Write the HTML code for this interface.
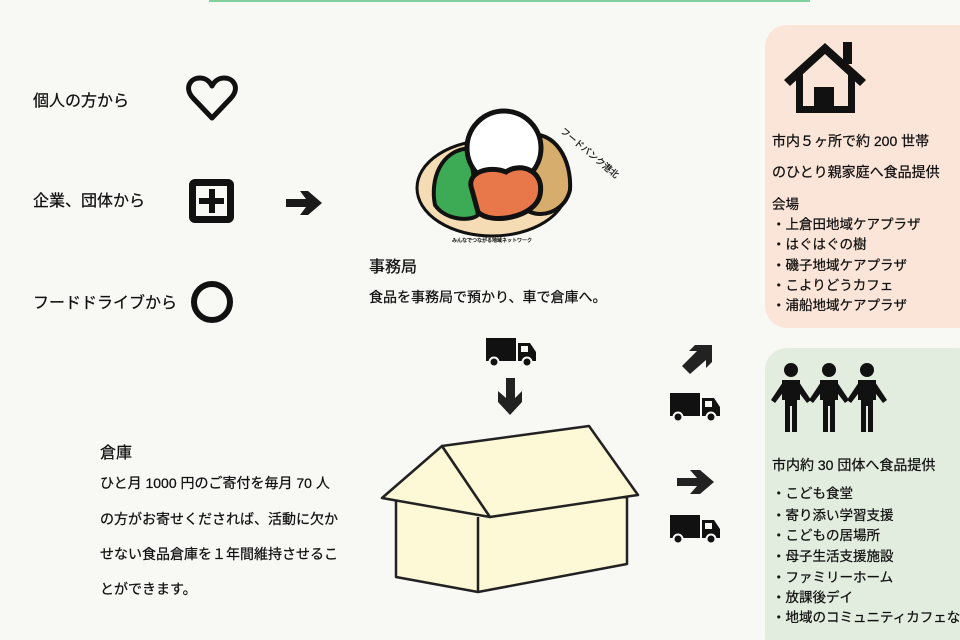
<!DOCTYPE html>
<html><head><meta charset="utf-8"><style>
html,body{margin:0;padding:0;background:#f8f8f5;}
svg{display:block;}
text{font-family:"Liberation Sans","Noto Sans CJK JP",sans-serif;fill:#111;stroke:#111;stroke-width:0.25;}
</style></head><body>
<svg width="960" height="640" viewBox="0 0 960 640" xmlns="http://www.w3.org/2000/svg">
<rect width="960" height="640" fill="#f8f8f5"/>
<rect x="209" y="0" width="601" height="2" fill="#7fd09c"/>
<rect x="765" y="25" width="215" height="303" rx="22" fill="#fbe5d8"/>
<rect x="765" y="348" width="215" height="310" rx="22" fill="#e3eddf"/>

<text x="33" y="106" font-size="16">個人の方から</text>
<text x="33" y="206" font-size="16">企業、団体から</text>
<text x="33" y="308" font-size="16">フードドライブから</text>
<path d="M212,118 L193,98 C184,88 190,78 200,78 C206,78 210,82 212,86 C214,82 218,78 224,78 C234,78 240,88 231,98 Z" fill="none" stroke="#111" stroke-width="5" stroke-linejoin="round"/>
<rect x="189" y="179" width="45" height="44" rx="6" fill="#111"/>
<rect x="196" y="186" width="31" height="30" fill="#f8f8f5"/>
<rect x="209" y="189" width="6" height="24" fill="#111"/>
<rect x="199" y="198" width="25" height="6" fill="#111"/>
<circle cx="212" cy="302" r="18" fill="none" stroke="#111" stroke-width="6"/>
<path d="M286,199 L306,199 L300,191 L308,191 L322,203 L308,215 L300,215 L306,207 L286,207 Z" fill="#1a1a1a"/>

<ellipse cx="492" cy="188" rx="75" ry="48" fill="#f6dcb5" stroke="#111" stroke-width="3"/>
<path d="M470,148 C440,150 430,180 435,205 C445,220 470,222 478,215 Z" fill="#3dab55" stroke="#111" stroke-width="4"/>
<path d="M528,135 C555,130 572,160 570,190 C565,210 545,218 530,212 L515,170 Z" fill="#d6ad6c" stroke="#111" stroke-width="4"/>
<circle cx="504" cy="148" r="37" fill="#fff" stroke="#111" stroke-width="5"/>
<path d="M472,190 C465,172 490,165 506,172 C520,162 545,170 540,195 C535,218 490,225 478,212 Z" fill="#e8784a" stroke="#111" stroke-width="5"/>
<text x="560" y="132" font-size="9" stroke-width="0" transform="rotate(40 560 132)">フードバンク港北</text>
<text x="452" y="242" font-size="5" stroke-width="0">みんなでつながる地域ネットワーク</text>

<text x="369" y="272" font-size="16">事務局</text>
<text x="369" y="302" font-size="14">食品を事務局で預かり、車で倉庫へ。</text>

<g id="truck">
<rect x="486" y="338" width="30" height="23" fill="#111"/>
<path d="M518,343 L530,343 L536,352 L536,361 L518,361 Z" fill="#111"/>
<rect x="521" y="346" width="7" height="6" fill="#f8f8f5"/>
<circle cx="494" cy="362" r="4.5" fill="#111" stroke="#f8f8f5" stroke-width="2"/>
<circle cx="527" cy="362" r="4.5" fill="#111" stroke="#f8f8f5" stroke-width="2"/>
</g>
<use href="#truck" transform="translate(184,55)"/>
<use href="#truck" transform="translate(184,177)"/>
<path d="M506,378 L515,378 L515,398 L522,391 L522,402 L510,415 L498,402 L498,391 L506,398 Z" fill="#222"/>
<path d="M682,366 L697,351 L689,351 L695,345 L712,345 L712,362 L706,368 L706,360 L690,374 Z" fill="#222"/>
<path d="M677,478 L697,478 L690,470 L700,470 L714,482 L700,494 L690,494 L697,486 L677,486 Z" fill="#222"/>

<g stroke="#222" stroke-width="2.5" stroke-linejoin="round" fill="#fdf8d6">
<path d="M396,500 L396,577 L478,592 L627,564 L627,497 Z"/>
<path d="M382,498 L442,446 L490,517 Z"/>
<path d="M442,446 L589,426 L638,495 L490,517 Z"/>
<path d="M478,517 L478,592" fill="none"/>
</g>

<text x="100" y="458" font-size="16">倉庫</text>
<text x="100" y="488" font-size="14">ひと月 1000 円のご寄付を毎月 70 人</text>
<text x="100" y="524" font-size="14">の方がお寄せくだされば、活動に欠か</text>
<text x="100" y="559" font-size="14">せない食品倉庫を１年間維持させるこ</text>
<text x="100" y="594" font-size="14">とができます。</text>

<rect x="843" y="42" width="9" height="22" fill="#111"/>
<path d="M784,80 L825,43 L866,80 L860,86 L825,54 L790,86 Z" fill="#111"/>
<path d="M796,80 L796,113 L855,113 L855,80 L848,74 L848,106 L803,106 L803,74 Z" fill="#111"/>
<rect x="814" y="87" width="20" height="22" fill="#111"/>

<text x="772" y="146" font-size="14">市内５ヶ所で約 200 世帯</text>
<text x="772" y="177" font-size="14">のひとり親家庭へ食品提供</text>
<text x="772" y="209" font-size="13.5">会場</text>
<text x="772" y="229" font-size="13.5">・上倉田地域ケアプラザ</text>
<text x="772" y="249" font-size="13.5">・はぐはぐの樹</text>
<text x="772" y="270" font-size="13.5">・磯子地域ケアプラザ</text>
<text x="772" y="290" font-size="13.5">・こよりどうカフェ</text>
<text x="772" y="310" font-size="13.5">・浦船地域ケアプラザ</text>

<g fill="#111">
<g id="p">
<circle cx="791" cy="370" r="7"/>
<path d="M782,380 L800,380 L800,400 L797,400 L797,432 L792,432 L792,406 L790,406 L790,432 L785,432 L785,400 L782,400 Z"/>
<path d="M783,382 L771,400 L775,403 L785,390 Z"/>
<path d="M799,382 L811,400 L807,403 L797,390 Z"/>
</g>
<use href="#p" transform="translate(38,0)"/>
<use href="#p" transform="translate(76,0)"/>
</g>

<text x="772" y="470" font-size="14">市内約 30 団体へ食品提供</text>
<text x="772" y="498" font-size="13.5">・こども食堂</text>
<text x="772" y="520" font-size="13.5">・寄り添い学習支援</text>
<text x="772" y="540" font-size="13.5">・こどもの居場所</text>
<text x="772" y="561" font-size="13.5">・母子生活支援施設</text>
<text x="772" y="582" font-size="13.5">・ファミリーホーム</text>
<text x="772" y="602" font-size="13.5">・放課後デイ</text>
<text x="772" y="622" font-size="13.5">・地域のコミュニティカフェなど</text>
</svg>
</body></html>
